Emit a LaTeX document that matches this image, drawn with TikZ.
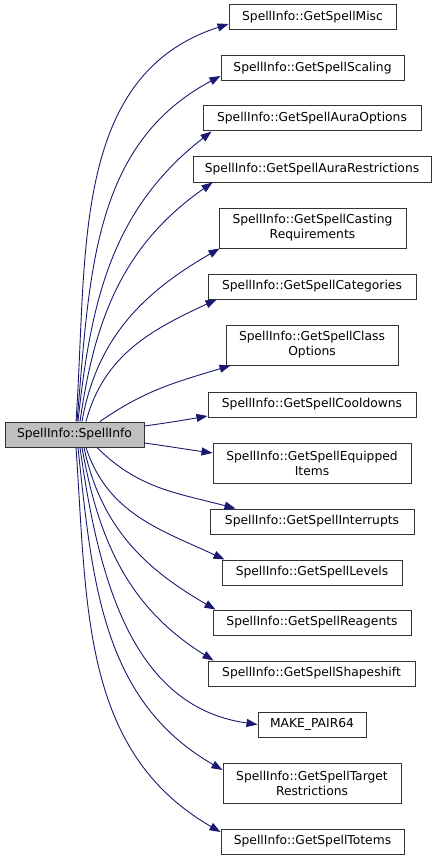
\documentclass[tikz,border=0pt]{standalone}
\usepackage{fontspec}
\setmainfont{DejaVu Sans}
\usepackage{xcolor}
\usetikzlibrary{arrows.meta}

\definecolor{edgeblue}{HTML}{191970}
\definecolor{srcgray}{HTML}{BFBFBF}

\begin{document}
\begin{tikzpicture}[
    x=1pt, y=1pt,
    font=\fontsize{12.3}{15}\selectfont,
    fn/.style={draw=black!80, line width=1pt, fill=white, align=center, inner sep=0pt, minimum height=25pt},
    fntwo/.style={fn, minimum height=40pt},
    call/.style={-{Triangle[length=11pt, width=8pt]}, edgeblue, line width=0.9pt}
  ]
  \useasboundingbox (0,0) rectangle (439,-861);

  % Caller
  \node[fn, fill=srcgray, minimum width=139pt] (src) at (74.5,-434.5) {SpellInfo::SpellInfo};

  % Callees, top to bottom
  \node[fn, minimum width=167pt] (misc) at (312.5,-17.5) {SpellInfo::GetSpellMisc};
  \node[fn, minimum width=183pt] (scaling) at (312.5,-68.5) {SpellInfo::GetSpellScaling};
  \node[fn, minimum width=218pt] (auraopt) at (312,-118.5) {SpellInfo::GetSpellAuraOptions};
  \node[fn, minimum width=238pt] (aurares) at (312,-169.5) {SpellInfo::GetSpellAuraRestrictions};
  \node[fntwo, minimum width=187pt] (casting) at (312.5,-228) {SpellInfo::GetSpellCasting\\Requirements};
  \node[fn, minimum width=208pt] (categories) at (312,-286.5) {SpellInfo::GetSpellCategories};
  \node[fntwo, minimum width=172pt] (classopt) at (312,-345) {SpellInfo::GetSpellClass\\Options};
  \node[fn, minimum width=208pt] (cooldowns) at (312,-404.5) {SpellInfo::GetSpellCooldowns};
  \node[fntwo, minimum width=198pt] (equipped) at (312,-463) {SpellInfo::GetSpellEquipped\\Items};
  \node[fn, minimum width=204pt] (interrupts) at (312,-521.5) {SpellInfo::GetSpellInterrupts};
  \node[fn, minimum width=180pt] (levels) at (312,-572.5) {SpellInfo::GetSpellLevels};
  \node[fn, minimum width=198pt] (reagents) at (312,-622.5) {SpellInfo::GetSpellReagents};
  \node[fn, minimum width=207pt] (shapeshift) at (311.5,-673.5) {SpellInfo::GetSpellShapeshift};
  \node[fn, minimum width=108pt] (makepair) at (312,-724.5) {MAKE\_PAIR64};
  \node[fntwo, minimum width=178pt] (targetres) at (312,-783) {SpellInfo::GetSpellTarget\\Restrictions};
  \node[fn, minimum width=183pt] (totems) at (312.5,-841.5) {SpellInfo::GetSpellTotems};

  % Calls upwards
  \draw[call] ([xshift=1.5pt]src.north) to[out=86, in=198] ([yshift=-6.5pt]misc.west);
  \draw[call] ([xshift=2.5pt]src.north) to[out=85, in=208] ([yshift=-7.5pt]scaling.west);
  \draw[call] ([xshift=3.5pt]src.north) to[out=84, in=218] ([xshift=9pt]auraopt.south west);
  \draw[call] ([xshift=5.5pt]src.north) to[out=82, in=215] ([xshift=20pt]aurares.south west);
  \draw[call] ([xshift=7.5pt]src.north) to[out=80, in=210] ([xshift=1pt]casting.south west);
  \draw[call] ([xshift=11.5pt]src.north) to[out=75, in=205] ([xshift=9pt]categories.south west);
  \draw[call] ([xshift=25.5pt]src.north) to[out=35, in=197] ([xshift=5pt]classopt.south west);

  % Calls to the side
  \draw[call] ([yshift=8.5pt]src.east) to[out=8, in=190] ([yshift=1.5pt]cooldowns.south west);
  \draw[call] ([yshift=-8.5pt]src.east) to[out=-8, in=172] ([yshift=10pt]equipped.west);

  % Calls downwards
  \draw[call] ([xshift=22.5pt]src.south) to[out=-45, in=165] ([xshift=26pt]interrupts.north west);
  \draw[call] ([xshift=11.5pt]src.south) to[out=-72, in=155] ([xshift=3pt]levels.north west);
  \draw[call] ([xshift=9.5pt]src.south) to[out=-78, in=150] ([xshift=3pt]reagents.north west);
  \draw[call] ([xshift=7.5pt]src.south) to[out=-80, in=148] ([xshift=6pt]shapeshift.north west);
  \draw[call] ([xshift=5.5pt]src.south) to[out=-82, in=172] (makepair.west);
  \draw[call] ([xshift=3.5pt]src.south) to[out=-84, in=150] ([yshift=13pt]targetres.west);
  \draw[call] ([xshift=1.5pt]src.south) to[out=-86, in=150] ([yshift=9.5pt]totems.west);
\end{tikzpicture}
\end{document}
